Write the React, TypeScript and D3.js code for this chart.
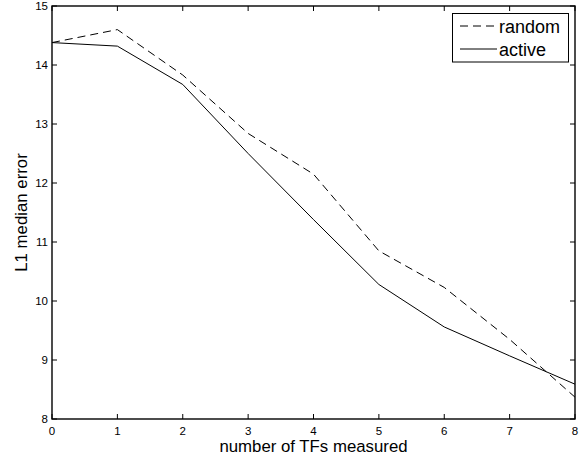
import React, { useRef, useEffect } from 'react'
import * as d3 from 'd3'

const tfsMeasured = [0, 1, 2, 3, 4, 5, 6, 7, 8]
const randomError = [14.38, 14.6, 13.83, 12.84, 12.15, 10.85, 10.23, 9.35, 8.37]
const activeError = [14.38, 14.32, 13.67, 12.5, 11.38, 10.28, 9.56, 9.07, 8.59]
const xTicks = [0, 1, 2, 3, 4, 5, 6, 7, 8]
const yTicks = [8, 9, 10, 11, 12, 13, 14, 15]

const W = 585
const H = 462
const FONT = '"Liberation Sans", Arial, Helvetica, sans-serif'

const App = () => {
  const svgRef = useRef<SVGSVGElement | null>(null)

  useEffect(() => {
    const svg = d3.select(svgRef.current)
    svg.selectAll('*').remove()

    const margin = { top: 6, right: 10, bottom: 43, left: 52 }
    const innerW = W - margin.left - margin.right
    const innerH = H - margin.top - margin.bottom

    svg.append('rect').attr('width', W).attr('height', H).attr('fill', '#fff')

    const g = svg.append('g').attr('transform', `translate(${margin.left},${margin.top})`)

    const x = d3.scaleLinear().domain([0, 8]).range([0, innerW])
    const y = d3.scaleLinear().domain([8, 15]).range([innerH, 0])

    // series
    const line = d3.line<number>()
      .x((_, i) => x(tfsMeasured[i]))
      .y(d => y(d))

    g.append('path')
      .datum(randomError)
      .attr('d', line)
      .attr('fill', 'none')
      .attr('stroke', '#000')
      .attr('stroke-width', 1)
      .attr('stroke-dasharray', '8,5')

    g.append('path')
      .datum(activeError)
      .attr('d', line)
      .attr('fill', 'none')
      .attr('stroke', '#000')
      .attr('stroke-width', 1)

    // matlab-style inward ticks on all four sides
    const tickLen = 5
    const ticks = g.append('g').attr('stroke', '#000').attr('stroke-width', 1)
    xTicks.forEach(t => {
      ticks.append('line').attr('x1', x(t)).attr('x2', x(t)).attr('y1', innerH).attr('y2', innerH - tickLen)
      ticks.append('line').attr('x1', x(t)).attr('x2', x(t)).attr('y1', 0).attr('y2', tickLen)
    })
    yTicks.forEach(t => {
      ticks.append('line').attr('x1', 0).attr('x2', tickLen).attr('y1', y(t)).attr('y2', y(t))
      ticks.append('line').attr('x1', innerW).attr('x2', innerW - tickLen).attr('y1', y(t)).attr('y2', y(t))
    })

    // box
    g.append('rect')
      .attr('width', innerW)
      .attr('height', innerH)
      .attr('fill', 'none')
      .attr('stroke', '#000')
      .attr('stroke-width', 1.4)

    // tick labels
    g.selectAll('.xt')
      .data(xTicks)
      .enter().append('text')
      .attr('x', d => x(d))
      .attr('y', innerH + 15.5)
      .attr('text-anchor', 'middle')
      .style('font-family', FONT)
      .style('font-size', '11.5px')
      .text(d => d)

    g.selectAll('.yt')
      .data(yTicks)
      .enter().append('text')
      .attr('x', -4)
      .attr('y', d => y(d) + 4)
      .attr('text-anchor', 'end')
      .style('font-family', FONT)
      .style('font-size', '11.5px')
      .text(d => d)

    // axis labels
    svg.append('text')
      .attr('x', margin.left + innerW / 2)
      .attr('y', 451.5)
      .attr('text-anchor', 'middle')
      .style('font-family', FONT)
      .style('font-size', '16.8px')
      .text('number of TFs measured')

    svg.append('text')
      .attr('transform', `translate(27,${margin.top + innerH / 2}) rotate(-90)`)
      .attr('text-anchor', 'middle')
      .style('font-family', FONT)
      .style('font-size', '16.8px')
      .text('L1 median error')

    // legend
    const lg = svg.append('g')
    lg.append('rect')
      .attr('x', 452.5).attr('y', 13.5)
      .attr('width', 116).attr('height', 48.5)
      .attr('fill', '#fff').attr('stroke', '#000').attr('stroke-width', 1)

    const items = [
      { label: 'random', dash: '8,5', cy: 26 },
      { label: 'active', dash: null, cy: 49 },
    ]
    items.forEach(it => {
      const l = lg.append('line')
        .attr('x1', 460).attr('x2', 497)
        .attr('y1', it.cy).attr('y2', it.cy)
        .attr('stroke', '#000').attr('stroke-width', 1)
      if (it.dash) l.attr('stroke-dasharray', it.dash)
      lg.append('text')
        .attr('x', 499)
        .attr('y', it.cy + 6.5)
        .style('font-family', FONT)
        .style('font-size', '18px')
        .text(it.label)
    })
  }, [])

  return (
    <svg ref={svgRef} width={W} height={H} style={{ position: 'absolute', left: 0, top: 0 }}></svg>
  )
}

export default App
